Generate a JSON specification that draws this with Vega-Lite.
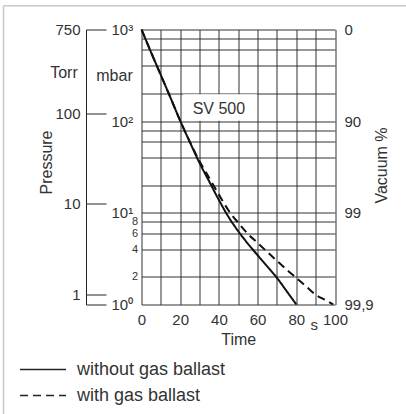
{
  "$schema": "https://vega.github.io/schema/vega-lite/v6.json",
  "width": 193.5,
  "height": 275,
  "autosize": "none",
  "padding": {"left": 141.5, "top": 29.5, "right": 71, "bottom": 109.5},
  "background": "white",
  "config": {
    "view": {"stroke": null},
    "font": "Liberation Sans",
    "axis": {
      "labelFont": "Liberation Sans",
      "titleFont": "Liberation Sans",
      "labelColor": "#333",
      "titleColor": "#333",
      "labelFontSize": 15,
      "titleFontSize": 16,
      "titleFontWeight": "normal",
      "labelOverlap": false,
      "labelBound": false,
      "labelFlush": false,
      "gridColor": "#333",
      "gridOpacity": 1,
      "gridWidth": 1
    },
    "legend": {"labelFont": "Liberation Sans"}
  },
  "resolve": {"axis": {"x": "independent", "y": "independent"}},
  "layer": [
    {
      "data": {"values": [{}]},
      "mark": {"type": "rect", "fill": "white", "strokeWidth": 0},
      "encoding": {
        "x": {"datum": 21.5, "type": "quantitative", "scale": {"domain": [0, 100], "nice": false, "zero": false}, "axis": null},
        "x2": {"datum": 59.7},
        "y": {"datum": 101, "type": "quantitative", "scale": {"type": "log", "domain": [1, 1000], "nice": false},
          "axis": {
            "orient": "left", "offset": 55.5,
            "values": [1, 1.29, 12.6, 122, 1000],
            "labelExpr": "datum.value > 500 ? '750' : datum.value > 50 ? '100' : datum.value > 5 ? '10' : datum.value > 1.1 ? '1' : ''",
            "tickSize": -20, "tickColor": "#222", "tickWidth": 1,
            "domainColor": "#222", "domainWidth": 1,
            "grid": false, "labelPadding": 26,
            "title": "Torr", "titleAngle": 0, "titleX": -22.5, "titleY": 42.5,
            "titleAlign": "center", "titleBaseline": "middle"
          }},
        "y2": {"datum": 197}
      }
    },
    {
      "data": {"values": [{}]},
      "mark": {"type": "text", "text": "SV 500", "fontSize": 16, "font": "Liberation Sans", "fontWeight": "normal", "color": "#333", "align": "center", "baseline": "middle"},
      "encoding": {
        "x": {"datum": 40, "type": "quantitative", "scale": {"domain": [0, 100], "nice": false, "zero": false},
          "axis": {"orient": "bottom", "values": [89], "labelExpr": "'s'", "ticks": false, "domain": false, "grid": false, "labelPadding": 13, "title": null}},
        "y": {"datum": 137, "type": "quantitative", "scale": {"type": "log", "domain": [1, 1000], "nice": false},
          "axis": {"orient": "left", "labels": false, "ticks": false, "domain": false, "grid": false,
            "title": "Pressure", "titleX": -95.5, "titleY": 132.5, "titleAngle": 270, "titleAlign": "center", "titleBaseline": "middle"}}
      }
    },
    {
      "data": {
        "values": [
          {"series": "without gas ballast", "t": 0, "p": 1000},
          {"series": "without gas ballast", "t": 5, "p": 560},
          {"series": "without gas ballast", "t": 10, "p": 318},
          {"series": "without gas ballast", "t": 15, "p": 180},
          {"series": "without gas ballast", "t": 20, "p": 101},
          {"series": "without gas ballast", "t": 25, "p": 59},
          {"series": "without gas ballast", "t": 30, "p": 35},
          {"series": "without gas ballast", "t": 35, "p": 22},
          {"series": "without gas ballast", "t": 40, "p": 13.8},
          {"series": "without gas ballast", "t": 45, "p": 9.0},
          {"series": "without gas ballast", "t": 50, "p": 6.3},
          {"series": "without gas ballast", "t": 55, "p": 4.6},
          {"series": "without gas ballast", "t": 60, "p": 3.45},
          {"series": "without gas ballast", "t": 65, "p": 2.6},
          {"series": "without gas ballast", "t": 70, "p": 1.95},
          {"series": "without gas ballast", "t": 75, "p": 1.4},
          {"series": "without gas ballast", "t": 80, "p": 1.0},
          {"series": "with gas ballast", "t": 0, "p": 1000},
          {"series": "with gas ballast", "t": 5, "p": 560},
          {"series": "with gas ballast", "t": 10, "p": 318},
          {"series": "with gas ballast", "t": 15, "p": 180},
          {"series": "with gas ballast", "t": 20, "p": 101},
          {"series": "with gas ballast", "t": 25, "p": 59.5},
          {"series": "with gas ballast", "t": 30, "p": 36.5},
          {"series": "with gas ballast", "t": 35, "p": 24},
          {"series": "with gas ballast", "t": 40, "p": 15.8},
          {"series": "with gas ballast", "t": 45, "p": 10.6},
          {"series": "with gas ballast", "t": 50, "p": 7.8},
          {"series": "with gas ballast", "t": 55, "p": 5.9},
          {"series": "with gas ballast", "t": 60, "p": 4.7},
          {"series": "with gas ballast", "t": 65, "p": 3.75},
          {"series": "with gas ballast", "t": 70, "p": 3.0},
          {"series": "with gas ballast", "t": 75, "p": 2.4},
          {"series": "with gas ballast", "t": 80, "p": 1.95},
          {"series": "with gas ballast", "t": 85, "p": 1.58},
          {"series": "with gas ballast", "t": 90, "p": 1.28},
          {"series": "with gas ballast", "t": 95, "p": 1.12},
          {"series": "with gas ballast", "t": 99, "p": 1.0}
        ]
      },
      "mark": {"type": "line", "stroke": "#111", "strokeWidth": 2, "interpolate": "monotone"},
      "encoding": {
        "x": {"field": "t", "type": "quantitative", "scale": {"domain": [0, 100], "nice": false, "zero": false},
          "axis": {"orient": "bottom", "values": [0, 10, 20, 30, 40, 50, 60, 70, 80, 90, 100],
            "labelExpr": "datum.value % 20 == 0 ? datum.label : ''",
            "grid": true, "ticks": false, "domain": false, "labelPadding": 8,
            "title": "Time", "titlePadding": 4}},
        "y": {"field": "p", "type": "quantitative", "scale": {"type": "log", "domain": [1, 1000], "nice": false},
          "axis": {"orient": "left", "values": [1, 2, 4, 6, 8, 10, 20, 40, 60, 80, 100, 200, 400, 600, 800, 1000],
            "labelExpr": "datum.value == 1000 ? '10³' : datum.value == 100 ? '10²' : datum.value == 10 ? '10¹' : datum.value == 1 ? '10⁰' : (datum.value < 10 && datum.value > 1) ? datum.value + '' : ''",
            "labelFontSize": {"condition": {"test": "datum.value < 10 && datum.value > 1", "value": 11}, "value": 15},
            "labelAlign": {"condition": {"test": "datum.value < 10 && datum.value > 1", "value": "right"}, "value": "left"},
            "labelPadding": {"condition": {"test": "datum.value < 10 && datum.value > 1", "value": 4}, "value": 30.5},
            "grid": true, "ticks": false, "domain": false,
            "title": "mbar", "titleAngle": 0, "titleX": -27.5, "titleY": 45.5, "titleAlign": "center", "titleBaseline": "middle"}},
        "strokeDash": {"field": "series", "type": "nominal",
          "scale": {"domain": ["without gas ballast", "with gas ballast"], "range": [[1, 0], [8, 5]]},
          "legend": {"orient": "none", "legendX": -107.5, "legendY": 331, "title": null, "padding": 0,
            "symbolType": "M-3.83,0H3.83", "symbolSize": 144, "symbolStrokeWidth": 1.5, "symbolStrokeColor": "#222",
            "labelFontSize": 18, "labelColor": "#333", "labelOffset": 25, "rowPadding": 8}}
      }
    },
    {
      "data": {"values": [{}]},
      "mark": {"type": "rule", "stroke": "#c8c8c8", "strokeWidth": 1.5},
      "encoding": {
        "x": {"datum": -71.3, "type": "quantitative", "scale": {"domain": [0, 100], "nice": false, "zero": false}, "axis": null},
        "y": {"datum": 1813, "type": "quantitative", "scale": {"type": "log", "domain": [1, 1000], "nice": false},
          "axis": {"orient": "right", "values": [1, 10, 100, 1000],
            "labelExpr": "datum.value > 500 ? '0' : datum.value > 50 ? '90' : datum.value > 5 ? '99' : '99,9'",
            "ticks": false, "domain": false, "grid": false, "labelPadding": 9, "labelAlign": "left",
            "title": "Vacuum %", "titleAngle": 270, "titleX": 46, "titleY": 135.5, "titleAlign": "center", "titleBaseline": "middle"}},
        "y2": {"datum": 0.05}
      }
    },
    {
      "data": {"values": [{}]},
      "mark": {"type": "rule", "stroke": "#c8c8c8", "strokeWidth": 1.5},
      "encoding": {
        "x": {"datum": -71.3, "type": "quantitative", "scale": {"domain": [0, 100], "nice": false, "zero": false}, "axis": null},
        "x2": {"datum": 140},
        "y": {"datum": 1813, "type": "quantitative", "scale": {"type": "log", "domain": [1, 1000], "nice": false}, "axis": null}
      }
    }
  ]
}
